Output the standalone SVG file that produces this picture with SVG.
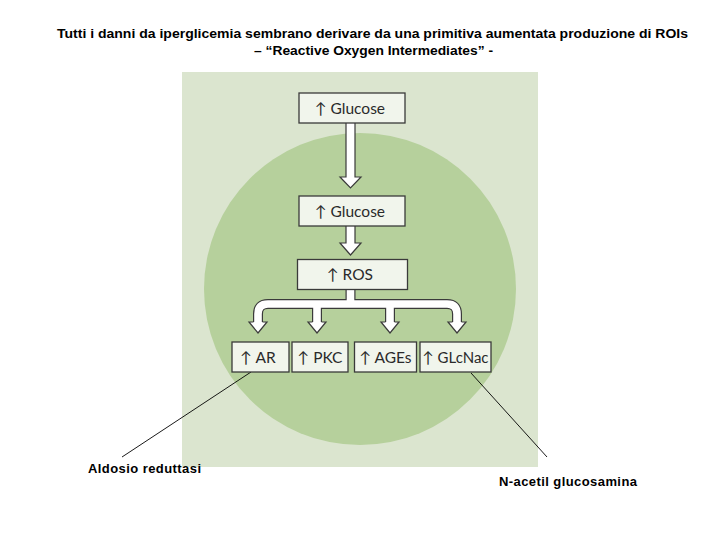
<svg xmlns="http://www.w3.org/2000/svg" width="720" height="540" viewBox="0 0 720 540">
<style>
.title{font-family:"Liberation Sans",Arial,sans-serif;font-weight:bold;font-size:13px;fill:#000}
.lbl{font-family:"Liberation Sans",Arial,sans-serif;font-weight:bold;font-size:13px;fill:#000}
.box{fill:#f1f5ec;stroke:#3a3a3a;stroke-width:1.3}
.bt{font-family:Lato,"Open Sans","DejaVu Sans",sans-serif;font-size:15.5px;fill:#2a2a2a;text-anchor:middle}
.ah{fill:#ffffff;stroke:#3a3a3a;stroke-width:1.2;stroke-linejoin:miter}
.sd{fill:none;stroke:#3a3a3a;stroke-width:10}
.sw{fill:none;stroke:#ffffff;stroke-width:7.6}
.lead{stroke:#000;stroke-width:0.9;fill:none}
</style>
<rect width="720" height="540" fill="#ffffff"/>
<text class="title" x="372.5" y="38" text-anchor="middle" textLength="631" lengthAdjust="spacingAndGlyphs">Tutti i danni da iperglicemia sembrano derivare da una primitiva aumentata produzione di ROIs</text>
<text class="title" x="373.5" y="55" text-anchor="middle" textLength="239" lengthAdjust="spacingAndGlyphs">– “Reactive Oxygen Intermediates” -</text>
<rect x="182" y="72" width="356" height="395" fill="#dbe5cf"/>
<circle cx="360" cy="289" r="156" fill="#b6d09c"/>
<g id="connectors">
<path class="ah" d="M346,123 V177 H340 L350.5,188 L361,177 H355 V123"/>
<path class="ah" d="M346,226 V243 H340 L350.5,255 L361,243 H355 V226"/>
<path class="sd" d="M258,322 V314 Q258,304 268,304 H447 Q457,304 457,314 V322 M317,304 V322 M390,304 V322 M350.5,289 V304"/>
<path class="sw" d="M258,323 V314 Q258,304 268,304 H447 Q457,304 457,314 V323 M317,304 V323 M390,304 V323 M350.5,290 V304"/>
<path class="ah" d="M253.5,322 H249 L258,333 L267,322 H262.5"/>
<path class="ah" d="M312.5,322 H308 L317,333 L326,322 H321.5"/>
<path class="ah" d="M385.5,322 H381 L390,333 L399,322 H394.5"/>
<path class="ah" d="M452.5,322 H448 L457,333 L466,322 H461.5"/>
<line class="lead" x1="251" y1="372" x2="122" y2="457"/>
<line class="lead" x1="471" y1="373" x2="547" y2="457"/>
</g>
<g id="glucose1"><rect class="box" x="299" y="93" width="106" height="30"/><text class="bt" x="350" y="113.5">↑ Glucose</text></g>
<g id="glucose2"><rect class="box" x="299" y="196" width="106" height="30"/><text class="bt" x="350" y="216.5">↑ Glucose</text></g>
<g id="ros"><rect class="box" x="297.5" y="259.5" width="110" height="30"/><text class="bt" x="350" y="280">↑ ROS</text></g>
<g id="ar"><rect class="box" x="232" y="342" width="57" height="30"/><text class="bt" x="258" y="362.5">↑ AR</text></g>
<g id="pkc"><rect class="box" x="292" y="342" width="56" height="30"/><text class="bt" x="320" y="362.5">↑ PKC</text></g>
<g id="ages"><rect class="box" x="354.5" y="342" width="62" height="30"/><text class="bt" x="385.5" y="362.5">↑ AGEs</text></g>
<g id="glcnac"><rect class="box" x="420" y="342" width="71" height="30"/><text class="bt" x="455.5" y="362.5" textLength="66" lengthAdjust="spacingAndGlyphs">↑ GLcNac</text></g>
<g id="label-ar"><text class="lbl" x="88" y="473" textLength="113" lengthAdjust="spacing">Aldosio reduttasi</text></g>
<g id="label-glcnac"><text class="lbl" x="499" y="486" textLength="138" lengthAdjust="spacing">N-acetil glucosamina</text></g>
</svg>
